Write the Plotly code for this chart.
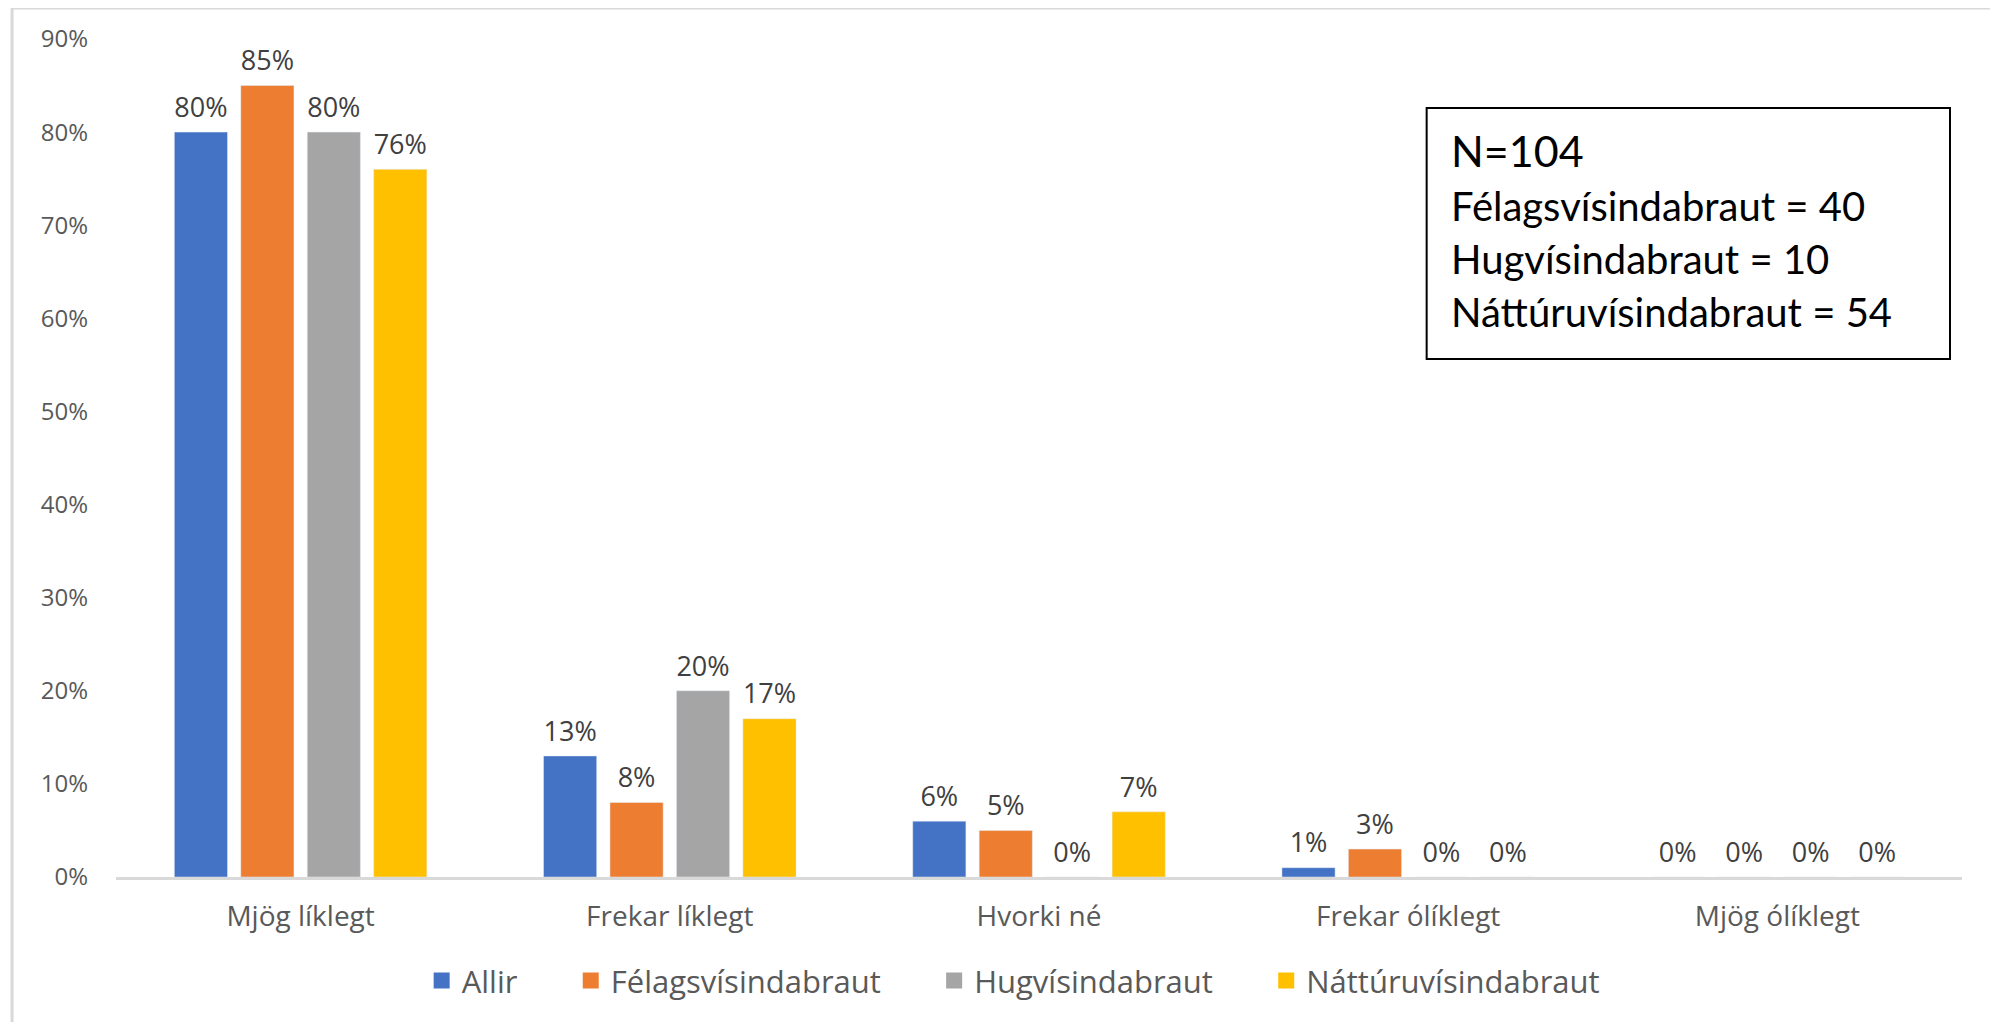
import plotly.graph_objects as go

categories = ["Mjög líklegt", "Frekar líklegt", "Hvorki né", "Frekar ólíklegt", "Mjög ólíklegt"]
series_names = ["Allir", "Félagsvísindabraut", "Hugvísindabraut", "Náttúruvísindabraut"]
allir = [0.80, 0.13, 0.06, 0.01, 0.00]
felags = [0.85, 0.08, 0.05, 0.03, 0.00]
hug = [0.80, 0.20, 0.00, 0.00, 0.00]
nattura = [0.76, 0.17, 0.07, 0.00, 0.00]
box_lines = ["Félagsvísindabraut = 40", "Hugvísindabraut = 10", "Náttúruvísindabraut = 54"]
n_total = "N=104"

COLORS = ["#4472C4", "#ED7D31", "#A5A5A5", "#FFC000"]
FONT = "Open Sans"
GAP = 0.28

fig = go.Figure()
for name, vals, col in zip(series_names, [allir, felags, hug, nattura], COLORS):
    fig.add_trace(go.Bar(x=categories, y=vals, name=name, marker_color=col,
                         showlegend=False, hoverinfo="skip"))

# data labels as grouped text points so they sit a bit higher above the bars
for name, vals in zip(series_names, [allir, felags, hug, nattura]):
    fig.add_trace(go.Scatter(
        x=categories, y=vals, mode="markers+text", showlegend=False,
        marker=dict(size=12, opacity=0), hoverinfo="skip",
        text=[f"{v:.0%}" for v in vals], textposition="top center",
        textfont=dict(family=FONT, size=27, color="#404040"), cliponaxis=False,
    ))

# legend entries with bigger square swatches (on a hidden axis)
pad = "\u00a0" * 6
for k, (name, col) in enumerate(zip(series_names, COLORS)):
    label = name + (pad if k < len(series_names) - 1 else "")
    fig.add_trace(go.Scatter(
        x=[None], y=[None], mode="markers", name=label, xaxis="x2", yaxis="y2",
        marker=dict(symbol="square", size=20, color=col),
    ))

# outer chart border (light grey) and the N box
fig.add_shape(type="rect", xref="paper", yref="paper",
              x0=-0.0563, x1=1.0184, y0=-0.183, y1=1.037,
              line=dict(color="#D9D9D9", width=3))
fig.add_shape(type="rect", xref="paper", yref="paper",
              x0=0.710, x1=0.9935, y0=0.618, y1=0.9177,
              line=dict(color="#000000", width=2), fillcolor="white")
fig.add_annotation(xref="paper", yref="paper", x=0.7221, y=0.8675,
                   xanchor="left", yanchor="middle", showarrow=False,
                   text=n_total, font=dict(family="Lato", size=43, color="#000000"))
for txt, yy in zip(box_lines, [0.8007, 0.7375, 0.6742]):
    fig.add_annotation(xref="paper", yref="paper", x=0.7221, y=yy,
                       xanchor="left", yanchor="middle", showarrow=False,
                       text=txt, font=dict(family="Lato", size=40, color="#000000"))

fig.update_layout(
    width=1998, height=1022,
    margin=dict(l=108, r=44, t=31, b=153),
    plot_bgcolor="white", paper_bgcolor="white",
    barmode="group", bargap=GAP, bargroupgap=0.2,
    scattermode="group", scattergap=GAP,
    font=dict(family=FONT, color="#595959"),
    legend=dict(orientation="h", x=0.486, xanchor="center", y=-0.124, yanchor="middle",
                font=dict(family=FONT, size=31, color="#595959"),
                itemwidth=30),
    xaxis=dict(showline=True, linecolor="#D9D9D9", linewidth=3, showgrid=False,
               ticks="", tickfont=dict(family=FONT, size=28, color="#595959"),
               ticklabelstandoff=12),
    yaxis=dict(range=[0, 0.9], dtick=0.1, tickformat=".0%", showgrid=False,
               zeroline=False, showline=False, ticks="",
               tickfont=dict(family=FONT, size=24, color="#595959"),
               ticklabelstandoff=27),
    xaxis2=dict(overlaying="x", visible=False),
    yaxis2=dict(overlaying="y", visible=False),
)

fig.write_html("out.html")
